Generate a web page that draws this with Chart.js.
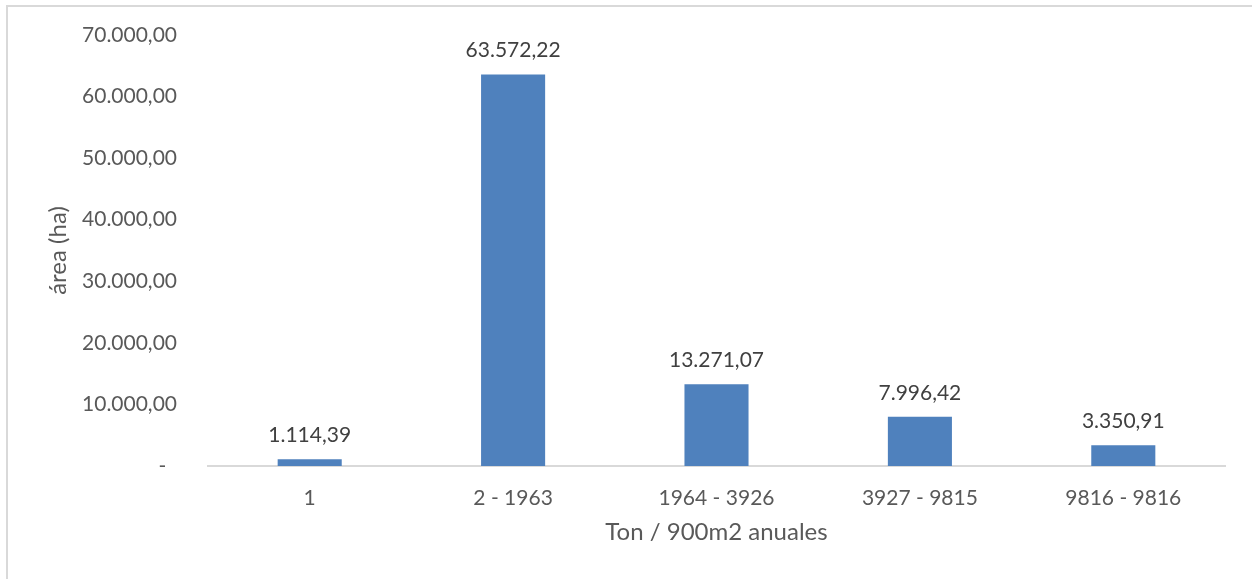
<!DOCTYPE html>
<html>
<head>
<meta charset="utf-8">
<script src="https://cdn.jsdelivr.net/npm/chart.js@4"></script>
<style>
  html, body { margin: 0; padding: 0; background: #fff; overflow: hidden; }
  #frame { position: absolute; left: 6px; top: 5px; width: 2000px; height: 2000px;
           border: 2px solid #d9d9d9; box-sizing: border-box; }
  #wrap { position: absolute; left: 0; top: 0; width: 1252px; height: 579px; }
</style>
</head>
<body>
<div id="frame"></div>
<div id="wrap"><canvas id="c" width="1252" height="579"></canvas></div>
<script>
const categories = ['1', '2 - 1963', '1964 - 3926', '3927 - 9815', '9816 - 9816'];
const areaHa = [1114.39, 63572.22, 13271.07, 7996.42, 3350.91];
const yTickValues = [0, 10000, 20000, 30000, 40000, 50000, 60000, 70000];

const FONT = 'Lato, "Open Sans", sans-serif';

// Spanish style number: thousands with '.', decimals with ','
function fmt(v) {
  const parts = v.toFixed(2).split('.');
  parts[0] = parts[0].replace(/\B(?=(\d{3})+(?!\d))/g, '.');
  return parts[0] + ',' + parts[1];
}

const valueLabels = {
  id: 'valueLabels',
  afterDatasetsDraw(chart) {
    const ctx = chart.ctx;
    const meta = chart.getDatasetMeta(0);
    ctx.save();
    ctx.font = '21px ' + FONT;
    ctx.fillStyle = '#404040';
    ctx.textAlign = 'center';
    ctx.textBaseline = 'middle';
    meta.data.forEach((bar, i) => {
      ctx.fillText(fmt(chart.data.datasets[0].data[i]), bar.x, bar.y - 24);
    });
    ctx.restore();
  }
};

new Chart(document.getElementById('c'), {
  type: 'bar',
  data: {
    labels: categories,
    datasets: [{
      data: areaHa,
      backgroundColor: '#4f81bd',
      borderWidth: 0,
      categoryPercentage: 1,
      barPercentage: 0.315
    }]
  },
  options: {
    responsive: false,
    animation: false,
    layout: { padding: { left: 44, right: 27, top: 35, bottom: 0 } },
    plugins: { legend: { display: false }, tooltip: { enabled: false } },
    scales: {
      x: {
        grid: { display: false, drawTicks: false },
        border: { display: true, color: '#d9d9d9', width: 2 },
        ticks: { color: '#595959', font: { family: FONT, size: 21 }, padding: 20 },
        title: { display: true, text: 'Ton / 900m2 anuales', color: '#595959',
                 font: { family: FONT, size: 24 }, padding: { top: 0, bottom: 32 } },
        afterFit(s) { s.height = 113; }
      },
      y: {
        min: 0, max: 70000,
        afterBuildTicks(s) { s.ticks = yTickValues.map(v => ({ value: v })); },
        grid: { display: false, drawTicks: false },
        border: { display: false },
        ticks: {
          color: '#595959', font: { family: FONT, size: 21 }, padding: 31,
          callback: v => v === 0 ? '-\u00a0\u00a0' : fmt(v)
        },
        title: { display: true, text: 'área (ha)', color: '#595959',
                 font: { family: FONT, size: 24 }, padding: { top: 0, bottom: 0 } },
        afterFit(s) {
          s.width = 164;
          // the horizontal label gap should not reserve vertical space
          s.paddingTop = 0;
          s.paddingBottom = 0;
        }
      }
    }
  },
  plugins: [valueLabels]
});
</script>
</body>
</html>
